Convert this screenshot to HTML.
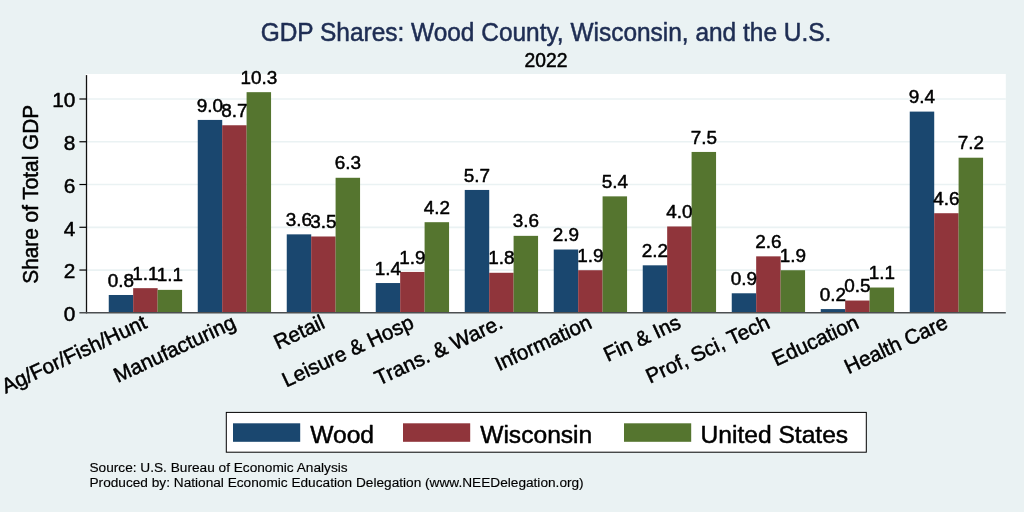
<!DOCTYPE html>
<html lang="en">
<head>
<meta charset="utf-8">
<title>GDP Shares: Wood County, Wisconsin, and the U.S.</title>
<style>
html,body{margin:0;padding:0;background:#eaf2f3;}
body{width:1024px;height:512px;overflow:hidden;}
svg{display:block;}
text{font-family:"Liberation Sans",Arial,Helvetica,sans-serif;fill:#000;stroke:#000;stroke-width:0.5px;stroke-linejoin:round;}
</style>
</head>
<body>
<svg width="1024" height="512" viewBox="0 0 1024 512">
<rect x="0" y="0" width="1024" height="512" fill="#eaf2f3"/>
<rect x="85.70" y="74.00" width="920.10" height="238.50" fill="#ffffff"/>
<line x1="85.70" y1="270.04" x2="1005.80" y2="270.04" stroke="#eaf2f3" stroke-width="1.7"/>
<line x1="85.70" y1="227.28" x2="1005.80" y2="227.28" stroke="#eaf2f3" stroke-width="1.7"/>
<line x1="85.70" y1="184.52" x2="1005.80" y2="184.52" stroke="#eaf2f3" stroke-width="1.7"/>
<line x1="85.70" y1="141.76" x2="1005.80" y2="141.76" stroke="#eaf2f3" stroke-width="1.7"/>
<line x1="85.70" y1="99.00" x2="1005.80" y2="99.00" stroke="#eaf2f3" stroke-width="1.7"/>
<rect x="108.75" y="294.99" width="24.47" height="17.51" fill="#1a476f"/>
<rect x="133.17" y="288.16" width="24.47" height="24.34" fill="#90353b"/>
<rect x="157.59" y="289.87" width="24.47" height="22.63" fill="#55752f"/>
<rect x="197.75" y="119.92" width="24.47" height="192.58" fill="#1a476f"/>
<rect x="222.17" y="125.26" width="24.47" height="187.24" fill="#90353b"/>
<rect x="246.59" y="92.17" width="24.47" height="220.33" fill="#55752f"/>
<rect x="286.75" y="234.36" width="24.47" height="78.14" fill="#1a476f"/>
<rect x="311.17" y="236.49" width="24.47" height="76.01" fill="#90353b"/>
<rect x="335.59" y="177.78" width="24.47" height="134.72" fill="#55752f"/>
<rect x="375.75" y="283.04" width="24.47" height="29.46" fill="#1a476f"/>
<rect x="400.17" y="271.94" width="24.47" height="40.56" fill="#90353b"/>
<rect x="424.59" y="222.19" width="24.47" height="90.31" fill="#55752f"/>
<rect x="464.75" y="189.95" width="24.47" height="122.55" fill="#1a476f"/>
<rect x="489.17" y="272.79" width="24.47" height="39.71" fill="#90353b"/>
<rect x="513.59" y="235.85" width="24.47" height="76.65" fill="#55752f"/>
<rect x="553.75" y="249.52" width="24.47" height="62.98" fill="#1a476f"/>
<rect x="578.17" y="270.23" width="24.47" height="42.27" fill="#90353b"/>
<rect x="602.59" y="196.36" width="24.47" height="116.14" fill="#55752f"/>
<rect x="642.75" y="265.32" width="24.47" height="47.18" fill="#1a476f"/>
<rect x="667.17" y="226.46" width="24.47" height="86.04" fill="#90353b"/>
<rect x="691.59" y="151.95" width="24.47" height="160.55" fill="#55752f"/>
<rect x="731.75" y="293.28" width="24.47" height="19.22" fill="#1a476f"/>
<rect x="756.17" y="256.35" width="24.47" height="56.15" fill="#90353b"/>
<rect x="780.59" y="270.23" width="24.47" height="42.27" fill="#55752f"/>
<rect x="820.75" y="309.08" width="24.47" height="3.42" fill="#1a476f"/>
<rect x="845.17" y="300.54" width="24.47" height="11.96" fill="#90353b"/>
<rect x="869.59" y="287.52" width="24.47" height="24.98" fill="#55752f"/>
<rect x="909.75" y="111.60" width="24.47" height="200.90" fill="#1a476f"/>
<rect x="934.17" y="213.22" width="24.47" height="99.28" fill="#90353b"/>
<rect x="958.59" y="157.71" width="24.47" height="154.79" fill="#55752f"/>
<text x="120.96" y="286.59" font-size="18.9" text-anchor="middle">0.8</text>
<text x="145.38" y="279.76" font-size="18.9" text-anchor="middle">1.1</text>
<text x="169.80" y="281.47" font-size="18.9" text-anchor="middle">1.1</text>
<text x="209.96" y="111.52" font-size="18.9" text-anchor="middle">9.0</text>
<text x="234.38" y="116.86" font-size="18.9" text-anchor="middle">8.7</text>
<text x="258.80" y="83.77" font-size="18.9" text-anchor="middle">10.3</text>
<text x="298.96" y="225.96" font-size="18.9" text-anchor="middle">3.6</text>
<text x="323.38" y="228.09" font-size="18.9" text-anchor="middle">3.5</text>
<text x="347.80" y="169.38" font-size="18.9" text-anchor="middle">6.3</text>
<text x="387.96" y="274.64" font-size="18.9" text-anchor="middle">1.4</text>
<text x="412.38" y="263.54" font-size="18.9" text-anchor="middle">1.9</text>
<text x="436.80" y="213.79" font-size="18.9" text-anchor="middle">4.2</text>
<text x="476.96" y="181.55" font-size="18.9" text-anchor="middle">5.7</text>
<text x="501.38" y="264.39" font-size="18.9" text-anchor="middle">1.8</text>
<text x="525.80" y="227.45" font-size="18.9" text-anchor="middle">3.6</text>
<text x="565.96" y="241.12" font-size="18.9" text-anchor="middle">2.9</text>
<text x="590.38" y="261.83" font-size="18.9" text-anchor="middle">1.9</text>
<text x="614.80" y="187.96" font-size="18.9" text-anchor="middle">5.4</text>
<text x="654.96" y="256.92" font-size="18.9" text-anchor="middle">2.2</text>
<text x="679.38" y="218.06" font-size="18.9" text-anchor="middle">4.0</text>
<text x="703.80" y="143.55" font-size="18.9" text-anchor="middle">7.5</text>
<text x="743.96" y="284.88" font-size="18.9" text-anchor="middle">0.9</text>
<text x="768.38" y="247.95" font-size="18.9" text-anchor="middle">2.6</text>
<text x="792.80" y="261.83" font-size="18.9" text-anchor="middle">1.9</text>
<text x="832.96" y="300.68" font-size="18.9" text-anchor="middle">0.2</text>
<text x="857.38" y="292.14" font-size="18.9" text-anchor="middle">0.5</text>
<text x="881.80" y="279.12" font-size="18.9" text-anchor="middle">1.1</text>
<text x="921.96" y="103.20" font-size="18.9" text-anchor="middle">9.4</text>
<text x="946.38" y="204.82" font-size="18.9" text-anchor="middle">4.6</text>
<text x="970.80" y="149.31" font-size="18.9" text-anchor="middle">7.2</text>
<line x1="86.5" y1="75.1" x2="86.5" y2="313.40" stroke="#111" stroke-width="1.3"/>
<line x1="79.4" y1="312.80" x2="1005.80" y2="312.80" stroke="#4c4f51" stroke-width="1.6"/>
<text x="75.3" y="321.10" font-size="20.8" text-anchor="end">0</text>
<line x1="79.4" y1="270.04" x2="86.4" y2="270.04" stroke="#000" stroke-width="1.2"/>
<text x="75.3" y="278.34" font-size="20.8" text-anchor="end">2</text>
<line x1="79.4" y1="227.28" x2="86.4" y2="227.28" stroke="#000" stroke-width="1.2"/>
<text x="75.3" y="235.58" font-size="20.8" text-anchor="end">4</text>
<line x1="79.4" y1="184.52" x2="86.4" y2="184.52" stroke="#000" stroke-width="1.2"/>
<text x="75.3" y="192.82" font-size="20.8" text-anchor="end">6</text>
<line x1="79.4" y1="141.76" x2="86.4" y2="141.76" stroke="#000" stroke-width="1.2"/>
<text x="75.3" y="150.06" font-size="20.8" text-anchor="end">8</text>
<line x1="79.4" y1="99.00" x2="86.4" y2="99.00" stroke="#000" stroke-width="1.2"/>
<text x="75.3" y="107.30" font-size="20.8" text-anchor="end">10</text>
<text transform="translate(38.4,194.3) rotate(-90) scale(1,1.045)" font-size="20.8" text-anchor="middle">Share of Total GDP</text>
<text transform="translate(148.18,327.30) rotate(-25)" font-size="20.8" text-anchor="end">Ag/For/Fish/Hunt</text>
<text transform="translate(237.18,327.30) rotate(-25)" font-size="20.8" text-anchor="end">Manufacturing</text>
<text transform="translate(326.18,327.30) rotate(-25)" font-size="20.8" text-anchor="end">Retail</text>
<text transform="translate(415.18,327.30) rotate(-25)" font-size="20.8" text-anchor="end">Leisure &amp; Hosp</text>
<text transform="translate(504.18,327.30) rotate(-25)" font-size="20.8" text-anchor="end">Trans. &amp; Ware.</text>
<text transform="translate(593.18,327.30) rotate(-25)" font-size="20.8" text-anchor="end">Information</text>
<text transform="translate(682.18,327.30) rotate(-25)" font-size="20.8" text-anchor="end">Fin &amp; Ins</text>
<text transform="translate(771.18,327.30) rotate(-25)" font-size="20.8" text-anchor="end">Prof, Sci, Tech</text>
<text transform="translate(860.18,327.30) rotate(-25)" font-size="20.8" text-anchor="end">Education</text>
<text transform="translate(949.18,327.30) rotate(-25)" font-size="20.8" text-anchor="end">Health Care</text>
<text transform="translate(546,41.2) scale(1,1.04)" font-size="24.45" text-anchor="middle" style="fill:#1e2d53;stroke:#1e2d53;stroke-width:0.5px">GDP Shares: Wood County, Wisconsin, and the U.S.</text>
<text x="546" y="66.9" font-size="19.3" text-anchor="middle">2022</text>
<rect x="226.3" y="412.4" width="640" height="39.8" fill="#fff" stroke="#000" stroke-width="1"/>
<rect x="233.00" y="423.3" width="67.2" height="18.5" fill="#1a476f"/>
<text x="310.20" y="442.7" font-size="24.6">Wood</text>
<rect x="403.00" y="423.3" width="67.2" height="18.5" fill="#90353b"/>
<text x="480.20" y="442.7" font-size="24.6">Wisconsin</text>
<rect x="624.00" y="423.3" width="67.2" height="18.5" fill="#55752f"/>
<text x="700.50" y="442.7" font-size="24.6">United States</text>
<text x="89.5" y="472.4" font-size="13.67" style="stroke-width:0.15px">Source: U.S. Bureau of Economic Analysis</text>
<text x="89.5" y="487.4" font-size="13.67" style="stroke-width:0.15px">Produced by: National Economic Education Delegation (www.NEEDelegation.org)</text>
</svg>
</body>
</html>
